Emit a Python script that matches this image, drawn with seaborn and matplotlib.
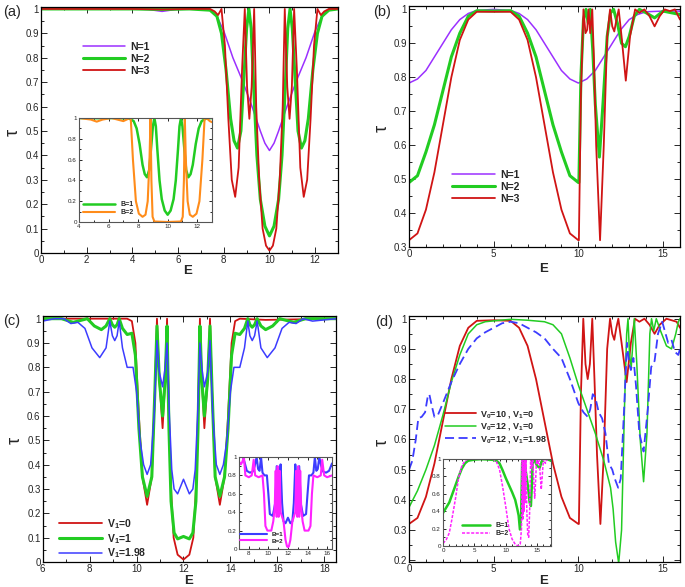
import matplotlib
matplotlib.use('Agg')
import matplotlib.pyplot as plt
import seaborn as sns
from matplotlib.ticker import MultipleLocator, FuncFormatter

# ---------------- data ----------------
# (a) main
a_n1_E = [0, 2, 4, 4.7, 5.3, 5.9, 7, 7.4, 7.7, 8.0, 8.4, 8.8, 9.2, 9.6, 9.8, 10.0, 10.2, 10.4,
          10.8, 11.2, 11.6, 12.0, 12.3, 12.6, 13]
a_n1_T = [1, 1, 1, 0.998, 0.99, 0.998, 1, 0.995, 0.97, 0.91, 0.8, 0.71, 0.61, 0.5, 0.45, 0.42, 0.45, 0.5,
          0.61, 0.71, 0.8, 0.91, 0.97, 0.995, 1]
a_n2_E = [0, 4, 5.3, 6.5, 7.4, 7.7, 7.9, 8.1, 8.3, 8.45, 8.6, 8.75, 8.9, 9.0, 9.1, 9.2, 9.3, 9.45, 9.6,
          9.8, 10.0, 10.2, 10.4, 10.55, 10.7, 10.8, 10.9, 11.0, 11.1, 11.25, 11.4, 11.55, 11.7, 11.9,
          12.1, 12.3, 12.6, 13]
a_n2_T = [1, 1, 0.998, 1, 0.995, 0.97, 0.9, 0.75, 0.55, 0.46, 0.43, 0.5, 0.75, 0.92, 1.0, 0.92, 0.7, 0.4,
          0.22, 0.11, 0.07, 0.11, 0.22, 0.4, 0.7, 0.92, 1.0, 0.92, 0.75, 0.5, 0.43, 0.46, 0.55, 0.75,
          0.9, 0.97, 0.995, 1]
a_n3_E = [0, 4, 5.3, 6.5, 7.4, 7.6, 7.75, 7.9, 8.05, 8.2, 8.35, 8.5, 8.65, 8.8, 8.92, 9.02, 9.12, 9.22,
          9.33, 9.42, 9.55, 9.7, 9.85, 10.0, 10.15, 10.3, 10.45, 10.58, 10.67, 10.78, 10.88, 10.98,
          11.08, 11.2, 11.35, 11.5, 11.65, 11.8, 11.95, 12.1, 12.25, 12.4, 12.6, 13]
a_n3_T = [1, 1, 0.998, 1, 1.0, 0.99, 0.975, 1.0, 0.85, 0.55, 0.3, 0.23, 0.35, 0.75, 1.0, 0.68, 0.55, 0.68,
          1.0, 0.6, 0.3, 0.1, 0.03, 0.01, 0.03, 0.1, 0.3, 0.6, 1.0, 0.68, 0.55, 0.68,
          1.0, 0.75, 0.35, 0.23, 0.3, 0.55, 0.85, 1.0, 0.975, 0.99, 1.0, 1]
# (a) inset
ai_b2_E = [4, 4.8, 5.2, 5.6, 6.2, 6.6, 7.0, 7.3, 7.5, 7.65, 7.85, 8.05, 8.3, 8.5, 8.65, 8.77, 8.84, 8.9,
           8.98, 9.1, 10, 10.9, 11.02, 11.1, 11.16, 11.23, 11.35, 11.5, 11.7, 11.95, 12.15, 12.35,
           12.5, 12.7, 12.85, 13]
ai_b2_T = [1, 0.985, 0.965, 0.985, 1.0, 0.985, 0.97, 0.99, 1.0, 0.6, 0.2, 0.08, 0.05, 0.07, 0.2, 0.6, 1.0, 0.4,
           0.05, 0.005, 0.0, 0.005, 0.05, 0.4, 1.0, 0.6, 0.2, 0.07, 0.05, 0.08, 0.2, 0.6,
           1.0, 0.99, 0.97, 0.96]

# (b)
b_n1_E = [0, 0.5, 1, 1.5, 2, 2.5, 3, 3.5, 4, 5, 6, 6.5, 7, 7.5, 8, 8.5, 9, 9.5, 10, 10.5,
          11, 11.5, 12, 12.5, 13, 13.5, 14, 15, 16]
b_n1_T = [0.783, 0.795, 0.82, 0.86, 0.9, 0.94, 0.97, 0.988, 0.997, 1.0, 0.997, 0.988, 0.97, 0.94, 0.9, 0.86,
          0.82, 0.795, 0.783, 0.795, 0.82, 0.86, 0.9, 0.94, 0.97, 0.985, 0.993, 0.995, 0.995]
b_n2_E = [0, 0.5, 1, 1.5, 2, 2.5, 3, 3.5, 4, 5, 6, 6.5, 7, 7.5, 8, 8.5, 9, 9.5, 10, 10.03,
          10.15, 10.3, 10.45, 10.58, 10.7, 10.85, 11.0, 11.24, 11.45, 11.7, 11.9, 12.08, 12.3, 12.55,
          12.78, 13.0, 13.3, 13.6, 14.0, 14.5, 15.0, 15.5, 16]
b_n2_T = [0.49, 0.51, 0.58, 0.66, 0.76, 0.86, 0.93, 0.98, 0.996, 0.995, 0.996, 0.98, 0.93, 0.86, 0.76, 0.66,
          0.58, 0.51, 0.49, 0.49, 0.8, 0.97, 1.0, 0.96, 1.0, 0.88, 0.72, 0.565, 0.72, 0.92, 0.99, 1.0,
          0.96, 0.9, 0.89, 0.92, 0.98, 1.0, 0.99, 0.975, 0.995, 0.99, 0.985]
b_n3_E = [0, 0.5, 1, 1.5, 2, 2.5, 3, 3.5, 4, 5, 6, 6.5, 7, 7.5, 8, 8.5, 9, 9.5, 10, 10.03,
          10.15, 10.3, 10.42, 10.52, 10.6, 10.7, 10.82, 10.92, 11.05, 11.28, 11.5, 11.7, 11.87, 12.0,
          12.12, 12.25, 12.38, 12.55, 12.8, 13.05, 13.35, 13.6, 13.9, 14.2, 14.5, 14.8, 15.1, 15.4,
          15.7, 16]
b_n3_T = [0.32, 0.34, 0.41, 0.52, 0.66, 0.8, 0.91, 0.97, 0.993, 0.993, 0.993, 0.97, 0.91, 0.8, 0.66, 0.52,
          0.41, 0.34, 0.32, 0.32, 0.75, 1.0, 0.93, 0.94, 1.0, 0.93, 1.0, 0.85, 0.6, 0.32, 0.6, 0.92,
          1.0, 0.95, 0.935, 0.97, 1.0, 0.92, 0.79, 0.92, 1.0, 0.99, 1.0, 0.98, 0.95, 0.98, 1.0, 0.995,
          1.0, 0.97]

# (c) main
c_v0_E = [6, 9.6, 9.8, 9.95, 10.1, 10.25, 10.45, 10.65, 10.78, 10.87, 10.97, 11.11, 11.22, 11.3,
          11.38, 11.47, 11.58, 11.75, 12.0, 12.25, 12.42, 12.53, 12.62, 12.7, 12.78, 12.89, 13.03,
          13.13, 13.22, 13.35, 13.55, 13.75, 13.9, 14.05, 14.2, 14.4, 15.5, 18.5]
c_v0_T = [1.0, 1.0, 0.99, 0.9, 0.6, 0.35, 0.235, 0.35, 0.7, 1.0, 0.75, 0.55, 0.75, 1.0,
          0.6, 0.3, 0.1, 0.03, 0.01, 0.03, 0.1, 0.3, 0.6, 1.0, 0.75, 0.55, 0.75,
          1.0, 0.7, 0.35, 0.235, 0.35, 0.6, 0.9, 0.99, 1.0, 0.995, 1.0]
c_v1_E = [6, 6.8, 7.3, 7.9, 8.2, 8.5, 8.7, 8.86, 8.97, 9.07, 9.17, 9.26, 9.4, 9.6, 9.8, 9.95, 10.1,
          10.25, 10.45, 10.65, 10.78, 10.87, 10.97, 11.11, 11.22, 11.3, 11.38, 11.47, 11.6, 11.75,
          12.0, 12.25, 12.4, 12.53, 12.62, 12.7, 12.78, 12.89, 13.03, 13.13, 13.22, 13.35, 13.55,
          13.75, 13.9, 14.05, 14.2, 14.4, 14.6, 14.74, 14.83, 14.93, 15.03, 15.14, 15.3, 15.5, 15.8,
          16.1, 16.7, 17.2, 18.5]
c_v1_T = [1.0, 1.0, 0.985, 1.0, 0.97, 0.955, 0.97, 1.0, 0.975, 0.965, 0.975, 1.0, 0.96, 0.935, 0.94, 0.85,
          0.55, 0.35, 0.27, 0.35, 0.7, 0.97, 0.75, 0.6, 0.75, 0.97, 0.55, 0.25, 0.12, 0.095,
          0.105, 0.095, 0.12, 0.25, 0.55, 0.97, 0.75, 0.6, 0.75, 0.97, 0.7, 0.35, 0.27,
          0.35, 0.55, 0.85, 0.94, 0.935, 0.96, 1.0, 0.975, 0.965, 0.975, 1.0, 0.97, 0.955, 0.97,
          1.0, 0.985, 1.0, 1.0]
c_v198_E = [6, 6.5, 6.9, 7.2, 7.5, 7.8, 8.1, 8.43, 8.7, 8.86, 8.97, 9.07, 9.17, 9.26, 9.4, 9.6, 9.85,
            10.0, 10.15, 10.3, 10.45, 10.6, 10.75, 10.87, 10.97, 11.11, 11.22, 11.3, 11.4, 11.5, 11.6,
            11.75, 12.0, 12.25, 12.4, 12.5, 12.6, 12.7, 12.78, 12.89, 13.03, 13.13, 13.25, 13.4, 13.55,
            13.7, 13.85, 14.0, 14.15, 14.4, 14.6, 14.74, 14.83, 14.93, 15.03, 15.14, 15.3, 15.57, 15.9,
            16.2, 16.5, 16.8, 17.1, 17.5, 18.0, 18.5]
c_v198_T = [0.99, 1.0, 1.0, 0.98, 0.985, 0.96, 0.88, 0.84, 0.88, 0.99, 0.93, 0.91, 0.93, 0.99, 0.88, 0.8, 0.8,
            0.7, 0.5, 0.4, 0.36, 0.4, 0.6, 0.91, 0.78, 0.72, 0.8, 0.9, 0.6, 0.38, 0.3,
            0.28, 0.34, 0.28, 0.3, 0.38, 0.6, 0.9, 0.8, 0.72, 0.78, 0.91, 0.6, 0.4, 0.36,
            0.4, 0.5, 0.7, 0.8, 0.8, 0.88, 0.99, 0.93, 0.91, 0.93, 0.99, 0.88, 0.84, 0.88,
            0.96, 0.985, 0.98, 1.0, 0.99, 0.995, 1.0]
# (c) inset
ci_b1_E = [7.0, 7.4, 7.6, 7.8, 8.1, 8.4, 8.6, 8.8, 8.95, 9.1, 9.25, 9.4, 9.6, 9.85, 10.0, 10.15, 10.45,
           10.7, 10.85, 11.0, 11.12, 11.25, 11.4, 11.55, 11.75, 12.0, 12.25, 12.45, 12.6, 12.75, 12.88,
           13.0, 13.15, 13.3, 13.55, 13.85, 14.0, 14.15, 14.4, 14.6, 14.75, 14.9, 15.05, 15.2, 15.4,
           15.6, 15.9, 16.2, 16.5]
ci_b1_T = [1.0, 1.0, 0.93, 0.85, 0.83, 0.84, 0.9, 1.0, 0.87, 0.85, 1.0, 0.83, 0.8, 0.8, 0.6, 0.38, 0.36,
           0.5, 0.9, 0.72, 0.7, 0.92, 0.5, 0.3, 0.28, 0.34, 0.28, 0.3, 0.5, 0.92, 0.7,
           0.72, 0.9, 0.5, 0.36, 0.38, 0.6, 0.8, 0.8, 0.83, 1.0, 0.85, 0.87, 1.0, 0.9,
           0.84, 0.83, 0.85, 0.93]
ci_b2_E = [7.0, 7.2, 7.35, 7.5, 7.65, 8.0, 8.3, 8.5, 8.65, 9.0, 9.4, 9.55, 9.7, 9.9, 10.3, 10.5, 10.65,
           10.75, 10.85, 10.95, 11.05, 11.15, 11.25, 11.4, 11.55, 11.75, 11.9, 12.0, 12.1, 12.25, 12.45,
           12.6, 12.75, 12.85, 12.95, 13.05, 13.15, 13.25, 13.35, 13.5, 13.7, 14.1, 14.3, 14.45, 14.6,
           15.0, 15.35, 15.5, 15.7, 16.0, 16.5]
ci_b2_T = [0.95, 0.92, 0.95, 1.0, 0.8, 0.78, 0.8, 0.97, 0.8, 0.78, 0.8, 0.6, 0.25, 0.2, 0.2, 0.3, 0.45,
           0.85, 0.35, 0.9, 0.35, 0.85, 0.4, 0.35, 0.3, 0.1, 0.03, 0.02, 0.03, 0.1, 0.3,
           0.35, 0.4, 0.85, 0.35, 0.9, 0.35, 0.85, 0.45, 0.3, 0.2, 0.2, 0.25, 0.6, 0.8,
           0.78, 0.8, 0.97, 0.8, 0.78, 0.8]

# (d) main
d_red_E = [0, 0.5, 1, 1.5, 2, 2.5, 3, 3.5, 4, 5, 6, 6.5, 7, 7.5, 8, 8.5, 9, 9.5, 10, 10.03,
           10.15, 10.29, 10.42, 10.55, 10.68, 10.82, 10.95, 11.1, 11.3, 11.5, 11.7, 11.87, 12.0, 12.12,
           12.24, 12.36, 12.55, 12.85, 13.1, 13.34, 13.6, 13.9, 14.2, 14.5, 14.8, 15.2, 15.5, 15.8, 16]
d_red_T = [0.32, 0.34, 0.41, 0.52, 0.66, 0.8, 0.91, 0.97, 0.993, 0.995, 0.993, 0.97, 0.91, 0.8, 0.66, 0.52,
           0.41, 0.34, 0.32, 0.32, 0.75, 1.0, 0.85, 0.8, 0.85, 1.0, 0.8, 0.55, 0.32, 0.55, 0.9, 1.0,
           0.95, 0.93, 0.97, 1.0, 0.92, 0.79, 0.92, 1.0, 0.99, 1.0, 0.98, 0.95, 0.98, 1.0, 0.995, 0.99, 0.97]
d_grn_E = [0, 0.5, 1, 1.5, 2, 2.5, 3, 3.5, 4, 4.5, 5, 6, 7, 8, 8.5, 9, 9.5, 10, 10.5, 11, 11.5, 11.9,
           12.05, 12.2, 12.38, 12.55, 12.72, 12.85, 12.93, 13.02, 13.12, 13.22, 13.3, 13.45, 13.65, 13.85,
           14.05, 14.22, 14.32, 14.45, 14.6, 14.85, 15.2, 15.5, 15.75, 15.9, 16]
d_grn_T = [0.375, 0.43, 0.5, 0.58, 0.68, 0.79, 0.88, 0.95, 0.98, 0.99, 0.993, 0.998, 0.995, 0.99, 0.98, 0.95,
           0.87, 0.78, 0.7, 0.62, 0.53, 0.44, 0.37, 0.26, 0.19, 0.3, 0.7, 0.95, 1.0, 0.88, 0.84, 0.92,
           1.0, 0.85, 0.6, 0.46, 0.62, 0.95, 1.0, 0.96, 1.0, 0.96, 0.91, 0.9, 0.95, 0.99, 1.0]
d_blu_E = [0, 0.2, 0.4, 0.55, 0.75, 0.95, 1.1, 1.2, 1.35, 1.5, 1.7, 2, 2.5, 3, 3.5, 4, 4.5, 5, 5.5, 6,
           6.5, 7, 7.5, 8, 8.5, 9, 9.5, 10, 10.3, 10.55, 10.7, 10.85, 11.0, 11.2, 11.4, 11.6, 11.8, 12.0,
           12.15, 12.35, 12.5, 12.7, 12.87, 13.0, 13.1, 13.25, 13.4, 13.6, 13.85, 14.1, 14.3, 14.5, 14.7,
           14.95, 15.15, 15.3, 15.5, 15.7, 15.9, 16]
d_blu_T = [0.5, 0.53, 0.6, 0.67, 0.675, 0.69, 0.74, 0.75, 0.71, 0.675, 0.68, 0.72, 0.79, 0.85, 0.9, 0.935,
           0.955, 0.97, 0.985, 0.99, 0.985, 0.97, 0.955, 0.935, 0.9, 0.87, 0.8, 0.72, 0.69, 0.675, 0.7,
           0.75, 0.74, 0.69, 0.67, 0.62, 0.52, 0.5, 0.47, 0.44, 0.47, 0.7, 0.92, 0.85, 0.83, 0.87, 0.78,
           0.62, 0.56, 0.7, 0.84, 0.86, 0.95, 0.99, 0.95, 0.92, 0.93, 0.89, 0.88, 0.9]
# (d) inset
di_b1_E = [0, 0.5, 1, 1.5, 2, 2.5, 3, 3.5, 4, 5, 6, 7, 8, 8.5, 9, 9.5, 10, 10.5, 11, 11.5, 11.85, 12.05,
           12.25, 12.45, 12.6, 12.75, 12.9, 13.0, 13.2, 13.5, 13.8, 14.0, 14.15, 14.3, 14.6, 15.0, 15.4,
           15.7, 16.0, 16.5, 17.2]
di_b1_T = [0.38, 0.44, 0.5, 0.6, 0.7, 0.8, 0.89, 0.95, 0.98, 0.993, 0.998, 0.995, 0.99, 0.98, 0.95, 0.87,
           0.78, 0.7, 0.62, 0.53, 0.42, 0.35, 0.19, 0.35, 0.95, 1.0, 0.7, 1.0, 0.85, 0.7, 0.5, 0.46, 0.7,
           1.0, 0.98, 0.92, 0.9, 0.97, 1.0, 1.0, 0.98]
di_b2_E = [0, 0.5, 1, 1.4, 2, 2.5, 3, 3.5, 4, 8, 8.5, 9, 9.5, 10, 10.5, 11, 11.5, 12, 12.3, 12.5, 12.62,
           12.72, 12.82, 12.92, 13.02, 13.12, 13.22, 13.35, 13.5, 13.65, 13.8, 13.95, 14.1, 14.3, 14.45,
           14.6, 14.75, 14.9, 15.1, 15.3, 15.5, 15.65, 15.8, 16.0, 16.3, 16.6, 17.2]
di_b2_T = [0.03, 0.07, 0.15, 0.3, 0.55, 0.79, 0.92, 0.98, 1.0, 1.0, 0.97, 0.88, 0.68, 0.45, 0.2, 0.08,
           0.02, 0.0, 0.02, 0.2, 1.0, 0.3, 1.0, 0.4, 1.0, 0.5, 1.0, 0.4, 0.12, 0.1, 0.4, 1.0, 0.9, 1.0,
           0.75, 0.55, 0.75, 1.0, 0.95, 1.0, 0.8, 0.65, 0.8, 1.0, 0.95, 1.0, 1.0]

PURPLE = '#9b30ff'
GREEN = '#22cc22'
RED = '#d01414'
BLUE = '#3c3cff'
ORANGE = '#ff8c1a'
MAGENTA = '#ff22ff'

sns.set_style('ticks')
plt.rcParams['font.family'] = ['Liberation Sans', 'DejaVu Sans']
plt.rcParams['mathtext.fontset'] = 'custom'
plt.rcParams['mathtext.rm'] = 'Liberation Sans:bold'
plt.rcParams['mathtext.default'] = 'rm'

W, H = 685, 587
fig = plt.figure(figsize=(W / 100, H / 100), dpi=100)


def box(l, t, r, b):
    return fig.add_axes([l / W, 1 - b / H, (r - l) / W, (b - t) / H])


def fmt(v, pos):
    return f'{round(v, 2):g}'


def style(ax, xlim, ylim, xmaj, xmin, ymaj, ymin, size=7, lw=0.9, inset=False):
    ax.set_xlim(*xlim)
    ax.set_ylim(*ylim)
    ax.xaxis.set_major_locator(MultipleLocator(xmaj))
    ax.xaxis.set_minor_locator(MultipleLocator(xmin))
    ax.yaxis.set_major_locator(MultipleLocator(ymaj))
    ax.yaxis.set_minor_locator(MultipleLocator(ymin))
    ax.xaxis.set_major_formatter(FuncFormatter(fmt))
    ax.yaxis.set_major_formatter(FuncFormatter(fmt))
    ax.tick_params(which='both', direction='in', top=True, right=True,
                   labelsize=size, width=0.7, pad=1.5)
    ax.tick_params(which='major', length=2.5 if inset else 4)
    ax.tick_params(which='minor', length=1.5 if inset else 2)
    for s in ax.spines.values():
        s.set_linewidth(lw)
        s.set_color('#555555' if inset else 'black')
    ax.set_xlabel('')
    ax.set_ylabel('')


def line(ax, x, y, color, lw, label=None, dashes=None):
    sns.lineplot(x=x, y=y, ax=ax, color=color, lw=lw, sort=False, estimator=None, label=label)
    if dashes is not None:
        ax.lines[-1].set_dashes(dashes)


def legend(ax, x, y, size, hl, sp, tp=0.5):
    ax.legend(loc='upper left', bbox_to_anchor=(x, y), frameon=False,
              prop=dict(weight='bold', size=size), handlelength=hl,
              handletextpad=tp, labelspacing=sp, borderaxespad=0, borderpad=0)


# ---------------- (a) ----------------
ax = box(41, 7, 338, 253)
line(ax, a_n1_E, a_n1_T, PURPLE, 1.1, 'N=1')
line(ax, a_n2_E, a_n2_T, GREEN, 2.2, 'N=2')
line(ax, a_n3_E, a_n3_T, RED, 1.3, 'N=3')
style(ax, (0, 13), (0, 1.008), 2, 1, 0.1, 0.05)
legend(ax, 0.141, 0.858, 7.5, 4.0, 0.2)

ax = box(79, 118, 212, 222)
line(ax, a_n2_E, a_n2_T, GREEN, 1.8, 'B=1')
line(ax, ai_b2_E, ai_b2_T, ORANGE, 1.5, 'B=2')
style(ax, (4, 13), (0, 1), 2, 1, 0.2, 0.1, size=4.5, lw=0.8, inset=True)
legend(ax, 0.03, 0.2, 5, 4.6, 0.15, 0.8)

# ---------------- (b) ----------------
ax = box(409, 6, 680, 247)
line(ax, b_n1_E, b_n1_T, PURPLE, 1.1, 'N=1')
line(ax, b_n2_E, b_n2_T, GREEN, 2.2, 'N=2')
line(ax, b_n3_E, b_n3_T, RED, 1.3, 'N=3')
style(ax, (0, 16), (0.3, 1.01), 5, 1, 0.1, 0.05)
legend(ax, 0.159, 0.32, 7.5, 4.1, 0.2)

# ---------------- (c) ----------------
ax = box(42.7, 316, 336, 562)
line(ax, c_v0_E, c_v0_T, RED, 1.3, 'V$_1$=0')
line(ax, c_v1_E, c_v1_T, GREEN, 2.2, 'V$_1$=1')
line(ax, c_v198_E, c_v198_T, BLUE, 1.1, 'V$_1$=1.98')
style(ax, (6, 18.5), (0, 1.011), 2, 1, 0.1, 0.05)
legend(ax, 0.056, 0.183, 7.5, 4.1, 0.1)

ax = box(239, 457, 332, 549)
line(ax, ci_b1_E, ci_b1_T, BLUE, 1.5, 'B=1')
line(ax, ci_b2_E, ci_b2_T, MAGENTA, 1.5, 'B=2')
style(ax, (7, 16.5), (0, 1), 2, 1, 0.2, 0.1, size=4.5, lw=0.8, inset=True)
legend(ax, 0.01, 0.185, 4.5, 4.3, 0.15, 0.8)

# ---------------- (d) ----------------
ax = box(409, 316, 680, 562)
line(ax, d_red_E, d_red_T, RED, 1.3, 'V$_0$=10 , V$_1$=0')
line(ax, d_grn_E, d_grn_T, GREEN, 1.1, 'V$_0$=12 , V$_1$=0')
line(ax, d_blu_E, d_blu_T, BLUE, 1.3, 'V$_0$=12 , V$_1$=1.98', dashes=(5, 2.5))
style(ax, (0, 16), (0.194, 1.009), 5, 1, 0.1, 0.05)
legend(ax, 0.133, 0.622, 6.5, 3.4, 0.15)

ax = box(443, 459, 551, 546)
line(ax, di_b1_E, di_b1_T, GREEN, 1.8, 'B=1')
line(ax, di_b2_E, di_b2_T, MAGENTA, 1.1, 'B=2', dashes=(2, 1))
style(ax, (0, 17.2), (0, 1), 5, 1, 0.2, 0.1, size=4.5, lw=0.8, inset=True)
legend(ax, 0.176, 0.276, 5, 4.0, 0.15, 0.8)

# ---------------- labels ----------------
for x, y, t in [(12, 12, '(a)'), (382, 12, '(b)'), (12, 321, '(c)'), (384, 322, '(d)')]:
    fig.text(x / W, 1 - y / H, t, ha='center', va='center', fontsize=10.5)
for x, y in [(13, 132), (382, 128), (15, 440), (382, 442)]:
    fig.text(x / W, 1 - y / H, 'τ', ha='center', va='center', fontsize=13, rotation=90)
for x, y in [(188, 271), (544, 269), (189, 581), (544, 581)]:
    fig.text(x / W, 1 - y / H, 'E', ha='center', va='center', fontsize=9.5, weight='bold')

fig.savefig('out.png', dpi=100)
